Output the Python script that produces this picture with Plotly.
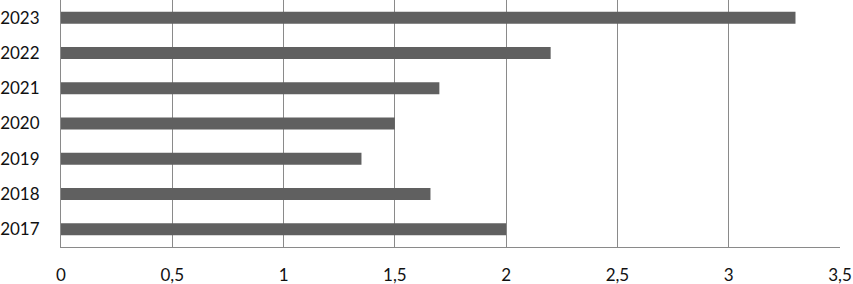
import plotly.graph_objects as go

years = ["2017", "2018", "2019", "2020", "2021", "2022", "2023"]
values = [2.0, 1.66, 1.35, 1.5, 1.7, 2.2, 3.3]
x_ticks = [0, 0.5, 1, 1.5, 2, 2.5, 3, 3.5]
x_tick_labels = ["0", "0,5", "1", "1,5", "2", "2,5", "3", "3,5"]

fig = go.Figure(go.Bar(
    y=years, x=values, orientation="h",
    marker=dict(color="#606060", line=dict(width=0)),
    width=0.34,
))

fig.update_layout(
    width=853, height=284,
    margin=dict(l=61, r=13, t=0, b=37, autoexpand=False),
    paper_bgcolor="white", plot_bgcolor="white",
    showlegend=False,
    font=dict(family="Lato, Open Sans, sans-serif", size=17, color="#111111"),
    xaxis=dict(
        range=[0, 3.5], tickvals=x_ticks, ticktext=x_tick_labels,
        showgrid=True, gridcolor="#8a8a8a", gridwidth=1,
        showline=True, linecolor="#8a8a8a", linewidth=1,
        zeroline=False, ticks="", ticklabelstandoff=13,
        automargin=False,
    ),
    yaxis=dict(
        type="category", categoryorder="array", categoryarray=years,
        range=[-0.5, 6.5],
        showgrid=False, showline=True, linecolor="#8a8a8a", linewidth=1,
        ticks="", ticklabelstandoff=17, automargin=False,
    ),
)

fig.write_html(
    "out.html",
    config={"displayModeBar": False},
    post_script="document.body.style.margin='0';document.body.style.overflow='hidden';",
)
